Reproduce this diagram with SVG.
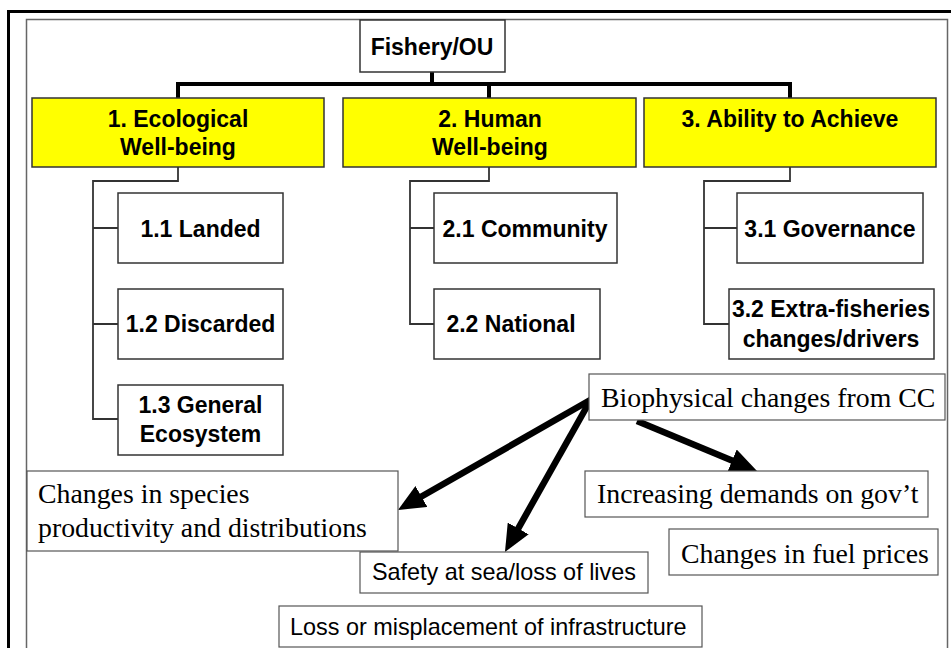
<svg xmlns="http://www.w3.org/2000/svg" width="951" height="648" viewBox="0 0 951 648">
<defs>
<style>
.box{fill:#fff;stroke:#333;stroke-width:1.5}
.ybox{fill:#ffff00;stroke:#333;stroke-width:1.5}
.tbox{fill:#fff;stroke:#555;stroke-width:1.2}
.b{font-family:"Liberation Sans",Arial,sans-serif;font-weight:bold;font-size:23px;fill:#000;text-anchor:middle}
.s{font-family:"Liberation Serif","Times New Roman",serif;font-size:27.8px;fill:#000}
.a{font-family:"Liberation Sans",Arial,sans-serif;font-size:23.4px;fill:#000}
.thick{fill:none;stroke:#000;stroke-width:4}
.thin{fill:none;stroke:#333;stroke-width:1.8}
.arr{fill:none;stroke:#000;stroke-width:6.5;marker-end:url(#ah)}
</style>
<marker id="ah" markerUnits="userSpaceOnUse" markerWidth="27" markerHeight="24" refX="9" refY="12" orient="auto">
<path d="M0,0 L27,12 L0,24 z" fill="#000"/>
</marker>
</defs>
<rect x="0" y="0" width="951" height="648" fill="#fff"/>
<rect x="8.5" y="11.5" width="980" height="700" fill="none" stroke="#000" stroke-width="3"/>
<rect x="26.5" y="19.5" width="921" height="700" fill="none" stroke="#666" stroke-width="1.5"/>

<g id="connectors">
<path class="thick" d="M432,72 V84 M178,98 V84 H790 V98 M489,84 V98"/>
<path class="thin" d="M178,167 V181 H93 V419 H118 M93,228 H118 M93,324 H118"/>
<path class="thin" d="M489,167 V181 H410 V324 H434 M410,228 H434"/>
<path class="thin" d="M790,167 V181 H704 V324 H729 M704,228 H737"/>
<line class="arr" x1="592" y1="399" x2="413.6" y2="501"/>
<line class="arr" x1="590" y1="401" x2="513.8" y2="536.3"/>
<line class="arr" x1="637" y1="421" x2="740.4" y2="464"/>
</g>

<g id="fishery"><rect class="box" x="360" y="20" width="145" height="52"/><text class="b" x="432" y="55">Fishery/OU</text></g>

<g id="n1"><rect class="ybox" x="32" y="98" width="292" height="69"/><text class="b" x="178" y="127">1. Ecological</text><text class="b" x="178" y="155">Well-being</text></g>
<g id="n2"><rect class="ybox" x="343" y="98" width="293" height="69"/><text class="b" x="490" y="127">2. Human</text><text class="b" x="490" y="155">Well-being</text></g>
<g id="n3"><rect class="ybox" x="644" y="98" width="292" height="69"/><text class="b" x="790" y="127">3. Ability to Achieve</text></g>

<g id="n11"><rect class="box" x="118" y="193" width="165" height="70"/><text class="b" x="200.5" y="237">1.1 Landed</text></g>
<g id="n12"><rect class="box" x="118" y="289" width="165" height="70"/><text class="b" x="200.5" y="332">1.2 Discarded</text></g>
<g id="n13"><rect class="box" x="118" y="385" width="165" height="70"/><text class="b" x="200.5" y="413">1.3 General</text><text class="b" x="200.5" y="442">Ecosystem</text></g>

<g id="n21"><rect class="box" x="434" y="193" width="183" height="70"/><text class="b" x="525" y="237">2.1 Community</text></g>
<g id="n22"><rect class="box" x="434" y="289" width="166" height="70"/><text class="b" x="511" y="332">2.2 National</text></g>

<g id="n31"><rect class="box" x="737" y="193" width="186" height="70"/><text class="b" x="830" y="237">3.1 Governance</text></g>
<g id="n32"><rect class="box" x="729" y="289" width="205" height="70"/><text class="b" x="831" y="317">3.2 Extra-fisheries</text><text class="b" x="831" y="347">changes/drivers</text></g>

<g id="bio"><rect class="tbox" x="589" y="374" width="356" height="46"/><text class="s" x="601" y="407">Biophysical changes from CC</text></g>
<g id="species"><rect class="tbox" x="27" y="471" width="371" height="80"/><text class="s" x="38" y="503">Changes in species</text><text class="s" x="38" y="537">productivity and distributions</text></g>
<g id="gov"><rect class="tbox" x="585" y="471" width="343" height="46"/><text class="s" x="597" y="503">Increasing demands on gov’t</text></g>
<g id="fuel"><rect class="tbox" x="669" y="529" width="269" height="46"/><text class="s" x="681" y="563">Changes in fuel prices</text></g>
<g id="safety"><rect class="tbox" x="360" y="552" width="288" height="41"/><text class="a" x="372" y="580">Safety at sea/loss of lives</text></g>
<g id="loss"><rect class="tbox" x="279" y="606" width="423" height="41"/><text class="a" x="290" y="635">Loss or misplacement of infrastructure</text></g>
</svg>
